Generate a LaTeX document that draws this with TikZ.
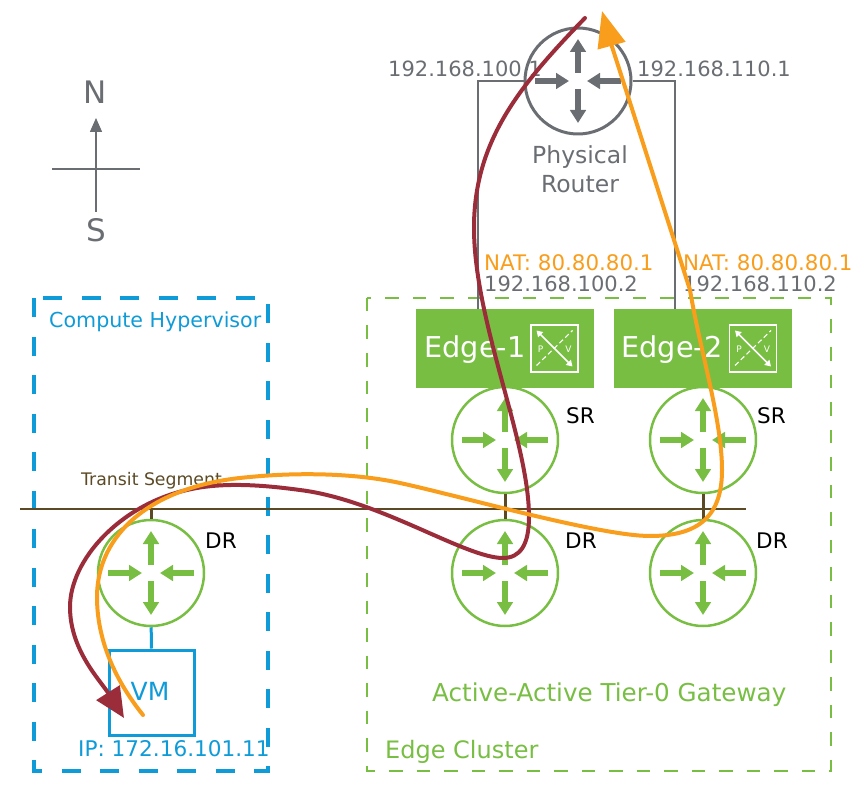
\documentclass[tikz,border=0pt]{standalone}
\usepackage{xcolor}
\usepackage{fontspec}
\setmainfont{DejaVu Sans}
\usetikzlibrary{positioning,arrows.meta,calc}
\definecolor{hvblue}{HTML}{0F9BD7}
\definecolor{edgegreen}{HTML}{78BE43}
\definecolor{routergray}{HTML}{6A6E73}
\definecolor{segbrown}{HTML}{5C4A25}
\definecolor{pathorange}{HTML}{F99D1C}
\definecolor{pathred}{HTML}{9B2D3B}
\newcommand{\fsize}[1]{\fontsize{#1}{#1}\selectfont}
\newcommand{\routerarrows}[2]{
	\begin{scope}[shift={(#1.center)},line width=6.5pt,#2,-{Triangle[length=13pt,width=15.5pt]}]
		\draw (0,-8) -- (0,-42);
		\draw (0,8) -- (0,42);
		\draw (-43,0) -- (-9,0);
		\draw (43,0) -- (9,0);
	\end{scope}
}
\newcommand{\pvicon}[1]{
	\begin{scope}[shift={(#1.center)},white]
		\draw[line width=1.5pt,{Triangle[length=6pt,width=7pt]}-{Triangle[length=6pt,width=7pt]}] (-18,-18) -- (18,18);
		\draw[line width=1.1pt,dash pattern=on 5pt off 3pt] (-18,17) -- (18,-18);
		\node[font=\fsize{9}] (#1p) at (-14,1) {P};
		\node[font=\fsize{9}] (#1v) at (14,1) {V};
	\end{scope}
}

\begin{document}
\begin{tikzpicture}[x=1pt,y=-1pt,
		router/.style={circle,draw=edgegreen,line width=2.5pt,minimum size=106pt,inner sep=0pt},
		edgebox/.style={fill=edgegreen,minimum width=178pt,minimum height=79pt,inner sep=0pt},
		iconbox/.style={draw=white,line width=1.2pt,minimum size=47pt,inner sep=0pt},
		graytext/.style={text=routergray,font=\fsize{21},inner sep=0pt,anchor=west},
		nattext/.style={text=pathorange,font=\fsize{21.4},inner sep=0pt,anchor=west},
		roletext/.style={text=black,font=\fsize{21.5},inner sep=0pt,anchor=west},
		trafficpath/.style={line width=4pt,line cap=round}]
		\useasboundingbox (0,0) rectangle (854,794);
		% compass
		\coordinate (south) at (96,212);
		\coordinate (north) at (96,118);
		\coordinate (west) at (52,169);
		\coordinate (east) at (140,169);
		\draw[routergray,line width=1.5pt,-{Triangle[length=14pt,width=12pt]}] (south) -- (north);
		\draw[routergray,line width=1.5pt] (west) -- (east);
		\node[text=routergray,font=\fsize{31}] (nlabel) at (95,92) {N};
		\node[text=routergray,font=\fsize{31}] (slabel) at (96,230) {S};

		% clusters
		\draw[hvblue,line width=3.4pt,dash pattern=on 19pt off 19.5pt] (34,298) rectangle (268,771);
		\draw[edgegreen,line width=2.5pt,dash pattern=on 13.5pt off 14pt] (367,298) rectangle (831,771);
		\node[text=hvblue,font=\fsize{20.6},inner sep=0pt,anchor=west] (hvlabel) at (49,322) {Compute Hypervisor};
		\node[text=edgegreen,font=\fsize{24.6},inner sep=0pt,anchor=west] (gwlabel) at (432,695) {Active-Active Tier-0 Gateway};
		\node[text=edgegreen,font=\fsize{24},inner sep=0pt,anchor=west] (eclabel) at (385,752) {Edge Cluster};

		% physical router
		\node[circle,draw=routergray,line width=3pt,minimum size=106pt,inner sep=0pt] (phys) at (578,81) {};
		\routerarrows{phys}{routergray}
		\node[text=routergray,font=\fsize{23.5},align=center,inner sep=0pt] (physlabel) at (580,169) {Physical\\[6pt]Router};
		\node[graytext] (ip1) at (388,69) {192.168.100.1};
		\node[graytext] (ip2) at (637,69) {192.168.110.1};

		% edge nodes
		\node[edgebox] (edge1) at (505,348.5) {};
		\node[edgebox] (edge2) at (702.5,348.5) {};
		\node[text=white,font=\fsize{28.7},inner sep=0pt] (edge1label) at (475,350) {Edge-1};
		\node[text=white,font=\fsize{28.7},inner sep=0pt] (edge2label) at (672,350) {Edge-2};
		\node[iconbox] (icon1) at (554.5,348.5) {};
		\node[iconbox] (icon2) at (753,348.5) {};
		\pvicon{icon1}
		\pvicon{icon2}
		\draw[routergray,line width=1.6pt] (phys.west) -- (478,81) -- (edge1.north -| 478,0);
		\draw[routergray,line width=1.6pt] (phys.east) -- (675,81) -- (edge2.north -| 675,0);
		\node[nattext] (nat1) at (484,263) {NAT: 80.80.80.1};
		\node[nattext] (nat2) at (683,263) {NAT: 80.80.80.1};
		\node[graytext] (uplink1) at (484,284) {192.168.100.2};
		\node[graytext] (uplink2) at (683,284) {192.168.110.2};

		% routers and segment
		\node[router] (sr1) at (505,440) {};
		\node[router] (sr2) at (703,440) {};
		\node[router] (dr1) at (505,573) {};
		\node[router] (dr2) at (703,573) {};
		\node[router] (dr3) at (151,573) {};
		\foreach \rname in {sr1,sr2,dr1,dr2,dr3}{
			\routerarrows{\rname}{edgegreen}
		}
		\coordinate (segleft) at (20,508.7);
		\coordinate (segright) at (746,508.7);
		\draw[segbrown,line width=1.8pt] (segleft) -- (segright);
		\draw[segbrown,line width=3pt] (sr1) -- (dr1);
		\draw[segbrown,line width=3pt] (sr2) -- (dr2);
		\draw[segbrown,line width=3pt] (dr3.north) -- (dr3.north |- segleft);
		\node[text=segbrown,font=\fsize{17.3},inner sep=0pt,anchor=west] (seglabel) at (81,480.5) {Transit Segment};
		\node[roletext] (sr1label) at (566,416) {SR};
		\node[roletext] (sr2label) at (757,416) {SR};
		\node[roletext] (dr1label) at (565,541) {DR};
		\node[roletext] (dr2label) at (756,541) {DR};
		\node[roletext] (dr3label) at (205,541) {DR};

		% vm
		\node[draw=hvblue,line width=3pt,minimum size=85pt,inner sep=0pt] (vm) at (151.5,692.5) {};
		\node[text=hvblue,font=\fsize{25},inner sep=0pt] (vmlabel) at (150,691) {VM};
		\draw[hvblue,line width=3pt] (dr3) -- (vm);
		\node[text=hvblue,font=\fsize{21.6},inner sep=0pt,anchor=west] (iplabel) at (78,749) {IP: 172.16.101.11};

		% traffic paths
		\coordinate (redstart) at (585,18);
		\coordinate (redend) at (124,718);
		\coordinate (orangestart) at (143,715);
		\coordinate (orangeend) at (602,11);
		\draw[trafficpath,pathred,-{Triangle[length=30pt,width=27pt]}] (redstart)
			.. controls (520,85) and (475,140) .. (474,225)
			.. controls (473,320) and (529,440) .. (529,517)
			.. controls (529,545) and (520,558) .. (503,558)
			.. controls (465,558) and (380,500) .. (300,490)
			.. controls (270,486) and (225,481) .. (187,490)
			.. controls (120,505) and (70,560) .. (70,607)
			.. controls (70,650) and (100,680) .. (redend);
		\draw[trafficpath,pathorange,-{Triangle[length=36pt,width=28pt]}] (orangestart)
			.. controls (115,680) and (97,640) .. (97,597)
			.. controls (97,535) and (150,485) .. (250,477)
			.. controls (290,473) and (350,472) .. (400,483)
			.. controls (460,496) and (600,536) .. (650,536)
			.. controls (700,536) and (722,515) .. (722,470)
			.. controls (722,420) and (700,350) .. (690,290)
			.. controls (650,165) and (610,40) .. (orangeend);
	\end{tikzpicture}
\end{document}
